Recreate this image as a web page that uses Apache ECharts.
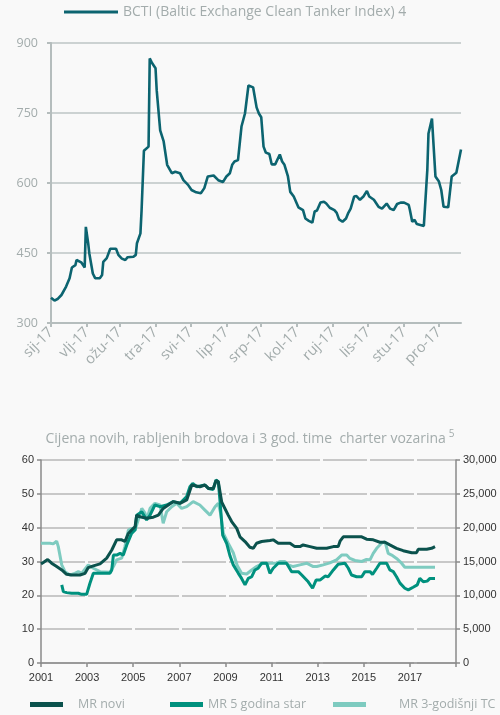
<!DOCTYPE html>
<html><head><meta charset="utf-8">
<script src="https://cdn.jsdelivr.net/npm/echarts@6/dist/echarts.min.js"></script>
<style>html,body{margin:0;padding:0;background:#f9f9f9;}#c{width:500px;height:715px;}</style>
</head><body><div id="c"></div>
<script>
// ---- Top chart: BCTI 2017 ----
const bctiDates = ['2017-01-01','2017-01-04','2017-01-07','2017-01-10','2017-01-14','2017-01-17','2017-01-19','2017-01-22','2017-01-23','2017-01-27','2017-01-30','2017-01-31','2017-02-02','2017-02-03','2017-02-06','2017-02-08','2017-02-12','2017-02-14','2017-02-15','2017-02-18','2017-02-21','2017-02-26','2017-02-28','2017-03-03','2017-03-06','2017-03-08','2017-03-13','2017-03-15','2017-03-16','2017-03-19','2017-03-20','2017-03-22','2017-03-26','2017-03-27','2017-03-29','2017-04-01','2017-04-02','2017-04-05','2017-04-08','2017-04-11','2017-04-15','2017-04-18','2017-04-22','2017-04-25','2017-04-29','2017-05-02','2017-05-06','2017-05-10','2017-05-13','2017-05-16','2017-05-21','2017-05-25','2017-05-29','2017-06-01','2017-06-04','2017-06-06','2017-06-08','2017-06-11','2017-06-14','2017-06-17','2017-06-20','2017-06-24','2017-06-27','2017-06-29','2017-07-01','2017-07-03','2017-07-05','2017-07-08','2017-07-10','2017-07-13','2017-07-17','2017-07-19','2017-07-21','2017-07-24','2017-07-26','2017-07-29','2017-08-02','2017-08-06','2017-08-08','2017-08-11','2017-08-14','2017-08-16','2017-08-18','2017-08-21','2017-08-24','2017-08-26','2017-08-29','2017-09-02','2017-09-04','2017-09-06','2017-09-09','2017-09-12','2017-09-14','2017-09-16','2017-09-19','2017-09-21','2017-09-24','2017-09-27','2017-09-30','2017-10-02','2017-10-06','2017-10-10','2017-10-13','2017-10-17','2017-10-20','2017-10-23','2017-10-26','2017-10-29','2017-11-01','2017-11-05','2017-11-06','2017-11-08','2017-11-10','2017-11-12','2017-11-15','2017-11-18','2017-11-21','2017-11-22','2017-11-25','2017-11-28','2017-12-01','2017-12-03','2017-12-05','2017-12-09','2017-12-12','2017-12-16','2017-12-20'];
const bctiValues = [354,348,352,360,378,396,419,424,435,430,419,506,471,449,406,396,396,403,431,439,459,459,446,438,435,441,442,446,471,492,542,669,678,867,857,846,799,713,689,639,621,624,621,606,596,585,580,578,589,614,616,606,602,614,621,639,646,649,721,749,809,805,762,749,741,678,665,662,640,640,661,646,639,614,581,571,548,542,524,519,515,539,541,558,560,556,547,542,536,522,517,524,536,545,571,572,564,571,583,571,564,549,545,556,545,542,555,558,558,553,542,517,521,512,510,508,628,706,738,614,603,585,549,548,614,622,672];
const monthLabels = ['sij-17','vlj-17','ožu-17','tra-17','svi-17','lip-17','srp-17','kol-17','ruj-17','lis-17','stu-17','pro-17'];
const topYTicks = [300, 450, 600, 750, 900];

// ---- Bottom chart: ship prices & 3y TC ----
const yearTicks = [2001, 2003, 2005, 2007, 2009, 2011, 2013, 2015, 2017];
const noviYears = [2001.00,2001.10,2001.29,2001.46,2001.68,2001.90,2002.11,2002.33,2002.69,2002.91,2003.05,2003.27,2003.56,2003.85,2004.07,2004.28,2004.50,2004.64,2004.79,2004.93,2005.08,2005.15,2005.29,2005.58,2005.87,2006.09,2006.30,2006.52,2006.74,2007.03,2007.32,2007.54,2007.89,2008.11,2008.26,2008.47,2008.59,2008.69,2008.84,2009.12,2009.27,2009.49,2009.63,2009.85,2010.06,2010.21,2010.35,2010.57,2010.93,2011.07,2011.29,2011.80,2012.01,2012.23,2012.37,2012.67,2012.96,2013.39,2013.68,2013.89,2013.97,2014.11,2014.91,2015.12,2015.41,2015.70,2015.92,2016.13,2016.42,2016.71,2017.08,2017.29,2017.36,2017.73,2017.94,2018.09];
const noviValues = [29.3,29.7,30.6,29.5,28.5,27.5,26.2,26.0,26.0,26.5,28.2,28.7,29.3,31.0,33.4,36.4,36.4,35.9,38.3,39.3,40.3,43.7,43.2,42.8,43.1,43.7,45.7,46.7,47.7,47.2,48.2,52.6,52.1,52.6,51.6,51.6,53.9,53.6,47.5,43.7,41.8,39.8,37.3,35.9,34.2,33.9,35.4,35.9,36.2,36.4,35.4,35.4,34.4,34.4,34.9,34.4,33.9,33.9,34.4,34.4,36.0,37.3,37.3,36.6,36.4,35.7,35.7,34.9,33.9,33.2,32.6,32.6,33.6,33.6,33.9,34.4];
const starYears = [2001.90,2001.97,2002.11,2002.33,2002.62,2002.76,2002.98,2003.12,2003.27,2003.99,2004.07,2004.14,2004.28,2004.43,2004.57,2004.72,2004.93,2005.08,2005.15,2005.37,2005.58,2005.73,2005.94,2006.16,2006.45,2006.74,2007.03,2007.32,2007.46,2007.58,2007.75,2008.11,2008.26,2008.47,2008.59,2008.69,2008.76,2008.88,2009.05,2009.20,2009.34,2009.56,2009.70,2009.85,2009.99,2010.14,2010.28,2010.42,2010.57,2010.79,2010.93,2011.07,2011.29,2011.65,2011.87,2012.16,2012.31,2012.59,2012.78,2012.93,2013.10,2013.32,2013.46,2013.68,2013.89,2014.18,2014.33,2014.47,2014.69,2014.91,2015.05,2015.27,2015.38,2015.56,2015.70,2015.99,2016.13,2016.28,2016.42,2016.57,2016.78,2016.93,2017.14,2017.32,2017.43,2017.58,2017.75,2017.87,2018.09];
const starValues = [23.1,21.1,20.8,20.6,20.6,20.3,20.3,23.5,26.5,26.5,27.5,31.9,31.9,32.4,31.9,34.9,38.3,39.3,43.7,44.7,42.3,43.7,46.7,46.2,46.7,47.7,47.2,49.2,52.1,53.1,52.1,52.6,51.6,51.3,54.1,53.6,48.2,37.8,35.4,31.6,29.0,26.5,25.0,23.1,25.0,25.5,27.5,28.0,29.5,29.5,26.5,28.0,29.5,29.5,27.0,27.0,26.0,24.0,22.1,24.5,24.5,25.7,25.5,27.5,29.2,29.5,28.0,26.0,25.5,25.5,27.0,27.0,26.2,28.0,29.5,29.5,27.5,27.0,25.5,23.6,22.1,21.6,22.4,23.1,25.0,24.0,24.2,25.0,25.0];
const tcYears = [2001.00,2001.39,2001.53,2001.68,2001.75,2001.90,2002.04,2002.26,2002.47,2002.62,2002.76,2003.05,2003.27,2003.56,2003.99,2004.14,2004.28,2004.50,2004.64,2004.79,2004.93,2005.08,2005.22,2005.37,2005.51,2005.58,2005.73,2005.94,2006.16,2006.30,2006.45,2006.67,2006.88,2007.10,2007.32,2007.60,2007.89,2008.11,2008.33,2008.55,2008.69,2008.79,2008.91,2009.12,2009.34,2009.51,2009.70,2009.92,2010.14,2010.35,2010.64,2011.22,2011.36,2011.58,2011.72,2011.94,2012.23,2012.52,2012.81,2012.96,2013.24,2013.53,2013.82,2014.04,2014.26,2014.40,2014.62,2014.91,2015.12,2015.27,2015.41,2015.56,2015.77,2015.92,2016.06,2016.21,2016.42,2016.64,2016.78,2018.09];
const tcValues = [17700,17700,17600,18000,17200,14500,13500,13000,13250,13500,13250,14500,14000,13500,13400,14250,15250,15500,17200,19650,19900,19650,21150,22850,22150,21150,22850,23600,23350,20650,22350,23100,23600,22850,23100,23850,23350,22600,21850,23100,23600,22150,19150,17700,16300,14400,13250,13150,13750,14250,14750,14750,15000,15000,14500,14250,14500,14750,14250,14250,14500,14800,15250,15950,15950,15450,15150,15000,15300,15250,16200,16950,17700,17950,16200,15950,15450,14750,14150,14150];

const seriesNames = ['MR novi', 'MR 5 godina star', 'MR 3-godišnji TC'];
const seriesColors = ['#0b524d', '#00917e', '#7ecbc0'];

const zip = (a, b) => a.map((x, i) => [x, b[i]]);
// day of year (0-based) for a 'YYYY-MM-DD' string
const dayOfYear = s => { const p = s.split('-').map(Number); return Math.round((Date.UTC(p[0], p[1] - 1, p[2]) - Date.UTC(p[0], 0, 1)) / 86400000); };
const monthStarts = monthLabels.map((_, i) => Math.round((Date.UTC(2017, i, 1) - Date.UTC(2017, 0, 1)) / 86400000));

const grayTxt = '#a3acac';
const chart = echarts.init(document.getElementById('c'), null, { renderer: 'canvas' });

chart.setOption({
  backgroundColor: '#f9f9f9',
  animation: false,
  title: {
    text: '{a|Cijena novih, rabljenih brodova i 3 god. time  charter vozarina}{s|5}',
    left: 'center', top: 424,
    textStyle: {
      rich: {
        a: { fontFamily: 'Open Sans', fontSize: 14, fontWeight: 'normal', color: grayTxt },
        s: { fontFamily: 'Open Sans', fontSize: 10, fontWeight: 'normal', color: grayTxt, padding: [0, 0, 10, 3] }
      }
    }
  },
  legend: [
    { data: ['BCTI (Baltic Exchange Clean Tanker Index) 4'], left: 64, top: 5, padding: 0, icon: 'rect', itemWidth: 54, itemHeight: 3,
      textStyle: { fontFamily: 'Open Sans', fontSize: 14, color: grayTxt } },
    { data: [seriesNames[0]], left: 30, top: 698, padding: 0, icon: 'rect', itemWidth: 33, itemHeight: 5,
      textStyle: { fontFamily: 'Open Sans', fontSize: 12.5, color: grayTxt, padding: [0, 0, 0, 10] } },
    { data: [seriesNames[1]], left: 170, top: 698, padding: 0, icon: 'rect', itemWidth: 33, itemHeight: 5,
      textStyle: { fontFamily: 'Open Sans', fontSize: 12.5, color: grayTxt } },
    { data: [seriesNames[2]], left: 333, top: 698, padding: 0, icon: 'rect', itemWidth: 33, itemHeight: 5,
      textStyle: { fontFamily: 'Open Sans', fontSize: 12.5, color: grayTxt, padding: [0, 0, 0, 28] } }
  ],
  grid: [
    { left: 51, right: 39, top: 43, bottom: 392 },
    { left: 41, right: 44, top: 460, bottom: 52 }
  ],
  xAxis: [
    {
      type: 'value', gridIndex: 0,
      min: dayOfYear(bctiDates[0]), max: dayOfYear(bctiDates[bctiDates.length - 1]),
      axisLine: { lineStyle: { color: '#b5bdbd', width: 2 } },
      axisTick: { show: true, length: 4, customValues: monthStarts, lineStyle: { color: '#b5bdbd', width: 2 } },
      axisLabel: {
        customValues: monthStarts, rotate: 45, margin: 7,
        fontFamily: 'Open Sans', fontSize: 14.5, color: grayTxt,
        formatter: v => monthLabels[monthStarts.indexOf(v)] || ''
      },
      splitLine: { show: false }
    },
    {
      type: 'value', gridIndex: 1, min: 2001, max: 2019, interval: 2,
      axisLine: { lineStyle: { color: '#8a8a8a', width: 1.5 } },
      axisTick: { show: true, length: 4, lineStyle: { color: '#8a8a8a', width: 1.5 } },
      axisLabel: {
        margin: 9, fontFamily: 'Liberation Sans', fontSize: 11, color: '#333',
        formatter: v => (yearTicks.indexOf(v) >= 0 ? String(v) : '')
      },
      splitLine: { show: false }
    }
  ],
  yAxis: [
    {
      type: 'value', gridIndex: 0, min: 300, max: 900, interval: 150,
      axisLine: { show: true, lineStyle: { color: '#b5bdbd', width: 2 } },
      axisTick: { show: true, length: 4, lineStyle: { color: '#b5bdbd', width: 2 } },
      axisLabel: { margin: 13, fontFamily: 'Open Sans', fontSize: 12.5, color: grayTxt,
        formatter: v => (topYTicks.indexOf(v) >= 0 ? String(v) : '') },
      splitLine: { show: true, lineStyle: { color: '#bcc4c4', width: 1.5 } }
    },
    {
      type: 'value', gridIndex: 1, min: 0, max: 60, interval: 10,
      axisLine: { show: true, lineStyle: { color: '#8a8a8a', width: 1.5 } },
      axisTick: { show: true, length: 4, lineStyle: { color: '#8a8a8a', width: 1.5 } },
      axisLabel: { margin: 7, fontFamily: 'Liberation Sans', fontSize: 11, color: '#333' },
      splitLine: { show: true, lineStyle: { color: '#c8c8c8', width: 2, type: [44, 3] } }
    },
    {
      type: 'value', gridIndex: 1, position: 'right', min: 0, max: 30000, interval: 5000,
      axisLine: { show: true, lineStyle: { color: '#8a8a8a', width: 1.5 } },
      axisTick: { show: true, length: 4, lineStyle: { color: '#8a8a8a', width: 1.5 } },
      axisLabel: { margin: 7, fontFamily: 'Liberation Sans', fontSize: 11, color: '#333',
        formatter: v => v.toLocaleString('en-US') },
      splitLine: { show: false }
    }
  ],
  series: [
    { name: 'BCTI (Baltic Exchange Clean Tanker Index) 4', type: 'line', xAxisIndex: 0, yAxisIndex: 0,
      data: zip(bctiDates.map(dayOfYear), bctiValues), showSymbol: false, symbol: 'none',
      lineStyle: { color: '#0c6470', width: 2.6 }, itemStyle: { color: '#0c6470' } },
    { name: seriesNames[2], type: 'line', xAxisIndex: 1, yAxisIndex: 2,
      data: zip(tcYears, tcValues), symbol: 'none',
      lineStyle: { color: seriesColors[2], width: 3 }, itemStyle: { color: seriesColors[2] } },
    { name: seriesNames[1], type: 'line', xAxisIndex: 1, yAxisIndex: 1,
      data: zip(starYears, starValues), symbol: 'none',
      lineStyle: { color: seriesColors[1], width: 3 }, itemStyle: { color: seriesColors[1] } },
    { name: seriesNames[0], type: 'line', xAxisIndex: 1, yAxisIndex: 1,
      data: zip(noviYears, noviValues), symbol: 'none',
      lineStyle: { color: seriesColors[0], width: 3 }, itemStyle: { color: seriesColors[0] } }
  ]
});
</script>
</body></html>
